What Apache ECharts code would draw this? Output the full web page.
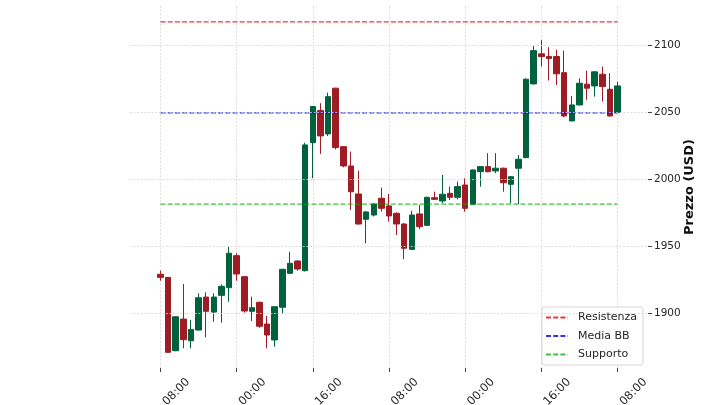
<!DOCTYPE html>
<html><head><meta charset="utf-8">
<script src="https://cdn.jsdelivr.net/npm/echarts@6/dist/echarts.min.js"></script>
<style>html,body{margin:0;padding:0;background:#fff}#c{width:720px;height:405px}</style>
</head><body><div id="c"></div>
<script>
// candle values: open, close, low, high
const opens  = [1928.9,1926.6,1871.9,1895.5,1879.3,1887.3,1911.9,1900.7,1913.2,1918.9,1942.8,1927.1,1901.3,1908.0,1891.8,1879.9,1904.3,1929.6,1938.8,1931.6,2027.1,2051.0,2033.6,2067.7,2024.1,2009.7,1988.8,1969.9,1973.1,1985.6,1979.9,1974.4,1966.4,1947.5,1973.9,1965.4,1986.0,1983.6,1989.3,1986.3,1995.5,1981.1,2005.4,2009.2,2006.0,2008.0,1996.0,2008.0,2015.9,2070.9,2093.3,2091.3,2091.3,2079.3,2043.3,2055.2,2070.7,2069.4,2078.1,2066.9,2049.5];
const closes = [1926.6,1870.7,1897.2,1880.1,1887.8,1911.4,1901.3,1911.9,1919.9,1944.6,1929.1,1901.5,1904.0,1890.1,1883.6,1904.7,1932.6,1937.1,1932.8,2025.4,2054.0,2032.1,2061.4,2023.4,2009.7,1990.5,1966.4,1975.4,1981.3,1978.1,1972.4,1966.4,1948.3,1973.1,1964.4,1986.3,1984.8,1988.6,1986.3,1994.3,1978.1,2006.7,2009.2,2005.4,2008.0,1997.2,2001.7,2014.7,2074.4,2095.7,2091.3,2089.8,2078.4,2047.0,2055.2,2071.4,2067.7,2079.9,2068.9,2047.0,2069.4];
const lows   = [1924.1,1870.5,1871.5,1873.7,1873.7,1887.0,1881.9,1893.5,1892.8,1908.4,1924.1,1900.3,1894.0,1889.0,1873.7,1874.9,1899.3,1929.0,1931.6,1931.0,2000.5,2018.7,2032.0,2022.0,2008.7,1976.9,1966.0,1952.0,1972.0,1975.6,1968.1,1958.2,1940.1,1947.0,1962.5,1965.0,1984.3,1981.9,1984.3,1984.8,1975.6,1980.5,1994.3,2005.0,2004.3,1990.5,1981.9,1981.3,2015.5,2070.5,2083.8,2073.4,2070.1,2046.0,2043.0,2055.0,2059.0,2061.4,2057.7,2046.5,2049.0];
const highs  = [1931.6,1926.8,1897.5,1921.6,1894.8,1914.7,1915.4,1914.7,1921.4,1949.5,1944.6,1927.5,1912.2,1908.5,1897.8,1905.0,1933.0,1945.7,1939.5,2027.0,2054.5,2056.5,2064.4,2068.0,2024.5,2020.4,2006.2,1976.0,1982.0,1993.5,1988.8,1975.0,1967.0,1976.3,1980.6,1986.8,1990.5,2003.0,1994.3,1998.0,2000.5,2007.0,2009.5,2019.2,2019.2,2008.5,2002.0,2017.9,2075.0,2099.3,2103.7,2098.3,2096.3,2095.7,2061.9,2075.1,2080.8,2080.5,2083.8,2078.9,2072.6];
const tickLabels = ["08:00","00:00","16:00","08:00","00:00","16:00","08:00"];
const tickEvery = 10;
const resistenza = 2117.2;
const mediaBB = 2049.3;
const supporto = 1981.3;
const yTicks = [1900,1950,2000,2050,2100];

const PAD = 4;
const n = opens.length;
const cats = [];
const candleData = [];
const resData = [], midData = [], supData = [];
for (let i = -PAD; i < n + PAD; i++) {
  cats.push(String(i));
  if (i >= 0 && i < n) {
    candleData.push([opens[i], closes[i], lows[i], highs[i]]);
    resData.push(resistenza); midData.push(mediaBB); supData.push(supporto);
  } else {
    candleData.push('-'); resData.push('-'); midData.push('-'); supData.push('-');
  }
}
const isTick = (idx) => { const k = idx - PAD; return k >= 0 && k < n && k % tickEvery === 0; };
const font = 'DejaVu Sans';
const gridLine = {color: '#d4d4d4', width: 0.8, type: [2, 1.6]};
const dash = [5, 2.2];
const cRed = 'rgba(240,0,0,0.8)', cBlue = 'rgba(0,0,240,0.8)', cGreen = 'rgba(0,170,0,0.75)';

const chart = echarts.init(document.getElementById('c'), null, {renderer: 'canvas'});
chart.setOption({
  animation: false,
  backgroundColor: '#fff',
  textStyle: {fontFamily: font},
  grid: {left: 130, top: 6, width: 518, height: 362, containLabel: false, outerBoundsMode: 'none'},
  legend: {
    data: ['Resistenza', 'Media BB', 'Supporto'],
    orient: 'vertical', left: 542, top: 307,
    padding: [5, 6, 5, 3], itemWidth: 22, itemHeight: 10, itemGap: 7.5,
    borderColor: '#d6d6d6', borderWidth: 1, borderRadius: 3,
    backgroundColor: 'rgba(255,255,255,0.85)',
    itemStyle: {opacity: 0},
    textStyle: {fontSize: 11, color: '#262626', fontFamily: font, padding: [0, 0, 0, 5]}
  },
  xAxis: {
    type: 'category', data: cats, boundaryGap: false,
    axisLine: {show: false},
    axisTick: {show: true, interval: isTick, length: 4, lineStyle: {color: '#444', width: 1}},
    axisLabel: {
      interval: isTick, rotate: 45, align: 'left', verticalAlign: 'middle', margin: 40,
      padding: [0, 0, 0, 6],
      fontSize: 11.5, color: '#262626', fontFamily: font,
      formatter: (v, idx) => tickLabels[(idx - PAD) / tickEvery] || ''
    },
    splitLine: {show: true, interval: isTick, lineStyle: gridLine}
  },
  yAxis: {
    type: 'value', position: 'right', min: 1859, max: 2129, scale: true,
    axisLine: {show: false},
    axisTick: {show: true, length: 4, customValues: yTicks, lineStyle: {color: '#444'}},
    axisLabel: {customValues: yTicks, margin: 6, fontSize: 10.5, color: '#262626', fontFamily: font,
      formatter: (v) => String(v)},
    splitLine: {show: false},
    name: 'Prezzo (USD)', nameLocation: 'middle', nameGap: 35, nameRotate: 90, nameMoveOverlap: false,
    nameTextStyle: {fontSize: 13, fontWeight: 'bold', color: '#111', fontFamily: font}
  },
  series: [
    {
      type: 'line', name: 'grid', data: [], z: 1, silent: true,
      markLine: {silent: true, symbol: ['none', 'none'], label: {show: false},
        lineStyle: gridLine, animation: false,
        data: yTicks.map(v => ({yAxis: v}))}
    },
    {
      type: 'candlestick', name: 'Prezzo', data: candleData, barWidth: 6, z: 2,
      itemStyle: {color: '#00623d', color0: '#a01c24', borderColor: '#00623d', borderColor0: '#a01c24', borderWidth: 1}
    },
    {type: 'line', name: 'Resistenza', data: resData, symbol: 'none', z: 3, silent: true,
     lineStyle: {color: cRed, width: 1.2, type: dash}, itemStyle: {color: cRed}},
    {type: 'line', name: 'Media BB', data: midData, symbol: 'none', z: 3, silent: true,
     lineStyle: {color: cBlue, width: 1.2, type: dash}, itemStyle: {color: cBlue}},
    {type: 'line', name: 'Supporto', data: supData, symbol: 'none', z: 3, silent: true,
     lineStyle: {color: cGreen, width: 1.2, type: dash}, itemStyle: {color: cGreen}}
  ]
});
</script></body></html>
